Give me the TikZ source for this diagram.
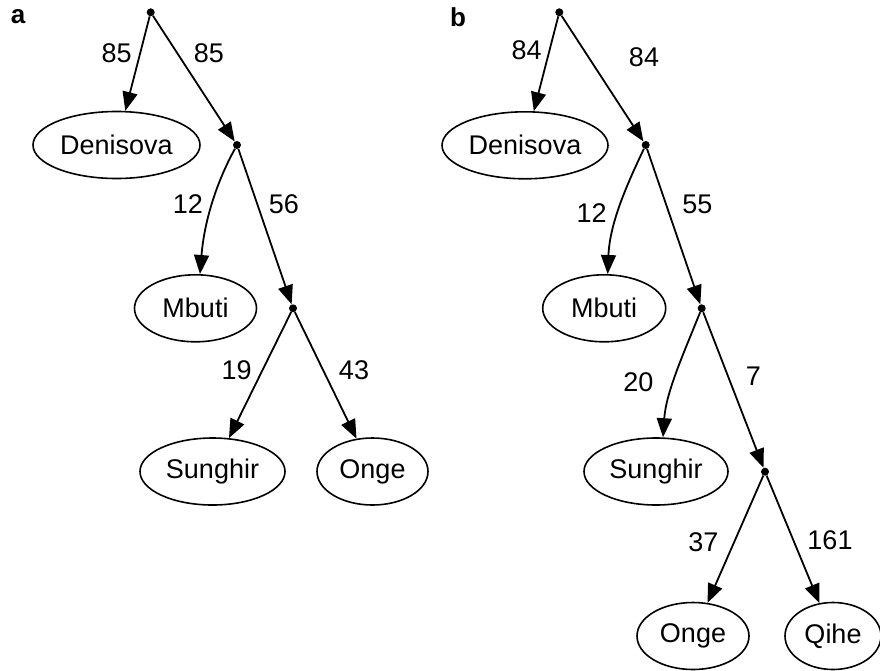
\documentclass[tikz,border=0pt]{standalone}
\usepackage{fontspec}
\setmainfont{Liberation Sans}
\usetikzlibrary{arrows.meta,shapes.geometric}

\tikzset{
  leaf/.style={draw, line width=1.6pt, ellipse, inner sep=0pt, minimum height=67pt},
  junction/.style={circle, fill=black, inner sep=0pt, minimum size=8pt},
  edge/.style={-{Triangle[length=19pt,width=15pt]}, line width=1.8pt},
  weight/.style={inner sep=0pt},
  panel/.style={inner sep=0pt, font=\fontsize{26}{30}\selectfont\bfseries}
}

\begin{document}
\begin{tikzpicture}[x=1pt, y=-1pt, font=\fontsize{27}{30}\selectfont]
\useasboundingbox (0,0) rectangle (880,670);

% ---------------- tree a ----------------
\node[panel] (pa) at (18,17) {a};
\node[junction] (ra)  at (150.7,12.3) {};
\node[leaf, minimum width=167pt] (dena) at (116.5,145) {Denisova};
\node[junction] (ja1) at (237,145) {};
\node[leaf, minimum width=122pt] (mba) at (195.5,308.3) {Mbuti};
\node[junction] (ja2) at (293,308.3) {};
\node[leaf, minimum width=145pt] (suna) at (212.5,471.5) {Sunghir};
\node[leaf, minimum width=111pt] (onga) at (372.5,471.5) {Onge};

\draw[edge] (ra) -- (dena);
\draw[edge] (ra) -- (ja1);
\draw[edge] (ja1) .. controls +(-22,40) and +(4,-50) .. ([xshift=4.5pt]mba.north);
\draw[edge] (ja1) -- (ja2);
\draw[edge] (ja2) -- (suna);
\draw[edge] (ja2) -- (onga);

\node[weight] (wa1) at (116.7,53.3) {85};
\node[weight] (wa2) at (209,53.3) {85};
\node[weight] (wa3) at (188,204) {12};
\node[weight] (wa4) at (284,204) {56};
\node[weight] (wa5) at (236.7,370) {19};
\node[weight] (wa6) at (354,370) {43};

% ---------------- tree b ----------------
\node[panel] (pb) at (458,17) {b};
\node[junction] (rb)  at (559.3,12.3) {};
\node[leaf, minimum width=166pt] (denb) at (525,145.3) {Denisova};
\node[junction] (jb1) at (645.7,145) {};
\node[leaf, minimum width=123pt] (mbb) at (604.2,308.3) {Mbuti};
\node[junction] (jb2) at (701.7,308.3) {};
\node[leaf, minimum width=144pt] (sunb) at (656,471.5) {Sunghir};
\node[junction] (jb3) at (765,471.7) {};
\node[leaf, minimum width=112pt] (ongb) at (693,636) {Onge};
\node[leaf, minimum width=96pt] (qib) at (833,636) {Qihe};

\draw[edge] (rb) -- (denb);
\draw[edge] (rb) -- (jb1);
\draw[edge] (jb1) .. controls +(-20,42) and +(2,-50) .. ([xshift=3.5pt]mbb.north);
\draw[edge] (jb1) -- (jb2);
\draw[edge] (jb2) .. controls +(-18,45) and +(3,-45) .. ([xshift=7pt]sunb.north);
\draw[edge] (jb2) -- (jb3);
\draw[edge] (jb3) -- (ongb);
\draw[edge] (jb3) -- (qib);

\node[weight] (wb1) at (526.7,50) {84};
\node[weight] (wb2) at (644,57) {84};
\node[weight] (wb3) at (591.7,213.3) {12};
\node[weight] (wb4) at (697.3,204) {55};
\node[weight] (wb5) at (638.3,381.7) {20};
\node[weight] (wb6) at (753.3,376) {7};
\node[weight] (wb7) at (703.3,541.7) {37};
\node[weight] (wb8) at (830,540) {161};
\end{tikzpicture}
\end{document}
